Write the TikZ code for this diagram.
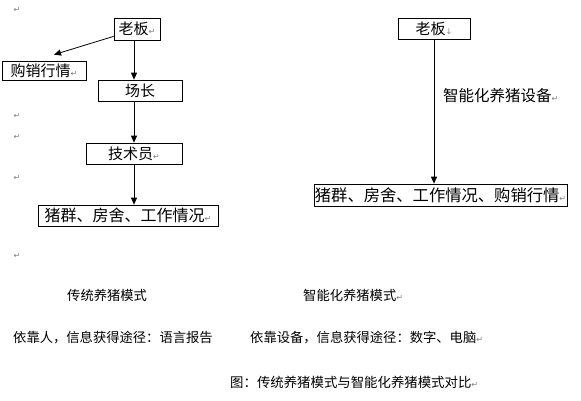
\documentclass[tikz,border=0pt]{standalone}
\usepackage{fontspec}
\setmainfont{Noto Sans CJK SC}
\newfontfamily\dejavu{DejaVu Sans}
\usetikzlibrary{arrows.meta,calc}
\newcommand\parmark{{\dejavu\color{gray}\fontsize{8}{8}\selectfont ↵}}
\newcommand\brkmark{{\dejavu\color{gray}\fontsize{8}{8}\selectfont ↓}}
\begin{document}
\begin{tikzpicture}[x=1pt,y=-1pt,
 cbox/.style={draw,line width=0.7pt,inner sep=0pt,font=\fontsize{15}{15}\selectfont},
 lbl/.style={inner sep=0pt,anchor=west,font=\fontsize{13.3}{14}\selectfont},
 mk/.style={inner sep=0pt},
 arr/.style={line width=0.8pt,-{Triangle[length=7pt,width=6pt]}}]
\useasboundingbox[fill=white] (0,0) rectangle (581,400);

% left column
\node[cbox,minimum width=46pt,minimum height=22pt] (boss1) at (137,29) {老板\parmark};
\node[cbox,minimum width=84pt,minimum height=19pt] (mkt) at (44,70.5) {购销行情\parmark};
\node[cbox,minimum width=84pt,minimum height=21pt] (fm) at (140,90.5) {场长};
\node[cbox,minimum width=96pt,minimum height=21pt] (tech) at (134,153.5) {技术员\parmark};
\node[cbox,minimum width=180pt,minimum height=21pt,font=\fontsize{16}{16}\selectfont] (pig1) at (128,215.5) {猪群、房舍、工作情况\parmark};

\draw[arr] ($(boss1.south west)+(0,-4)$) -- ($(mkt.north)+(10,-6)$);
\draw[arr] (boss1.south -| tech.north) -- (fm.north -| tech.north);
\draw[arr] (fm.south -| tech.north) -- (tech.north);
\draw[arr] (tech.south) -- (pig1.north -| tech.south);

% right column
\node[cbox,minimum width=72pt,minimum height=21pt] (boss2) at (434,28.5) {老板\brkmark};
\node[cbox,minimum width=253pt,minimum height=22pt,font=\fontsize{16.3}{17}\selectfont] (pig2) at (440.5,195) {猪群、房舍、工作情况、购销行情\parmark};
\draw[arr] (boss2.south) -- (pig2.north -| boss2.south);
\node[lbl,font=\fontsize{15.5}{16}\selectfont] (dev) at (443,96) {智能化养猪设备\parmark};

% left paragraph marks
\node[mk] (m1) at (17,10) {\parmark};
\node[mk] (m2) at (17,116) {\parmark};
\node[mk] (m3) at (17,137) {\parmark};
\node[mk] (m4) at (17,178) {\parmark};
\node[mk] (m5) at (17,256) {\parmark};

% bottom texts
\node[lbl] (t1) at (67,295) {传统养猪模式};
\node[lbl] (t2) at (303,295) {智能化养猪模式\parmark};
\node[lbl] (t3) at (13,338) {依靠人，信息获得途径：语言报告};
\node[lbl] (t4) at (250,338) {依靠设备，信息获得途径：数字、电脑\parmark};
\node[lbl,font=\fontsize{13.4}{14}\selectfont] (t5) at (230,382) {图：传统养猪模式与智能化养猪模式对比\parmark};
\end{tikzpicture}
\end{document}
